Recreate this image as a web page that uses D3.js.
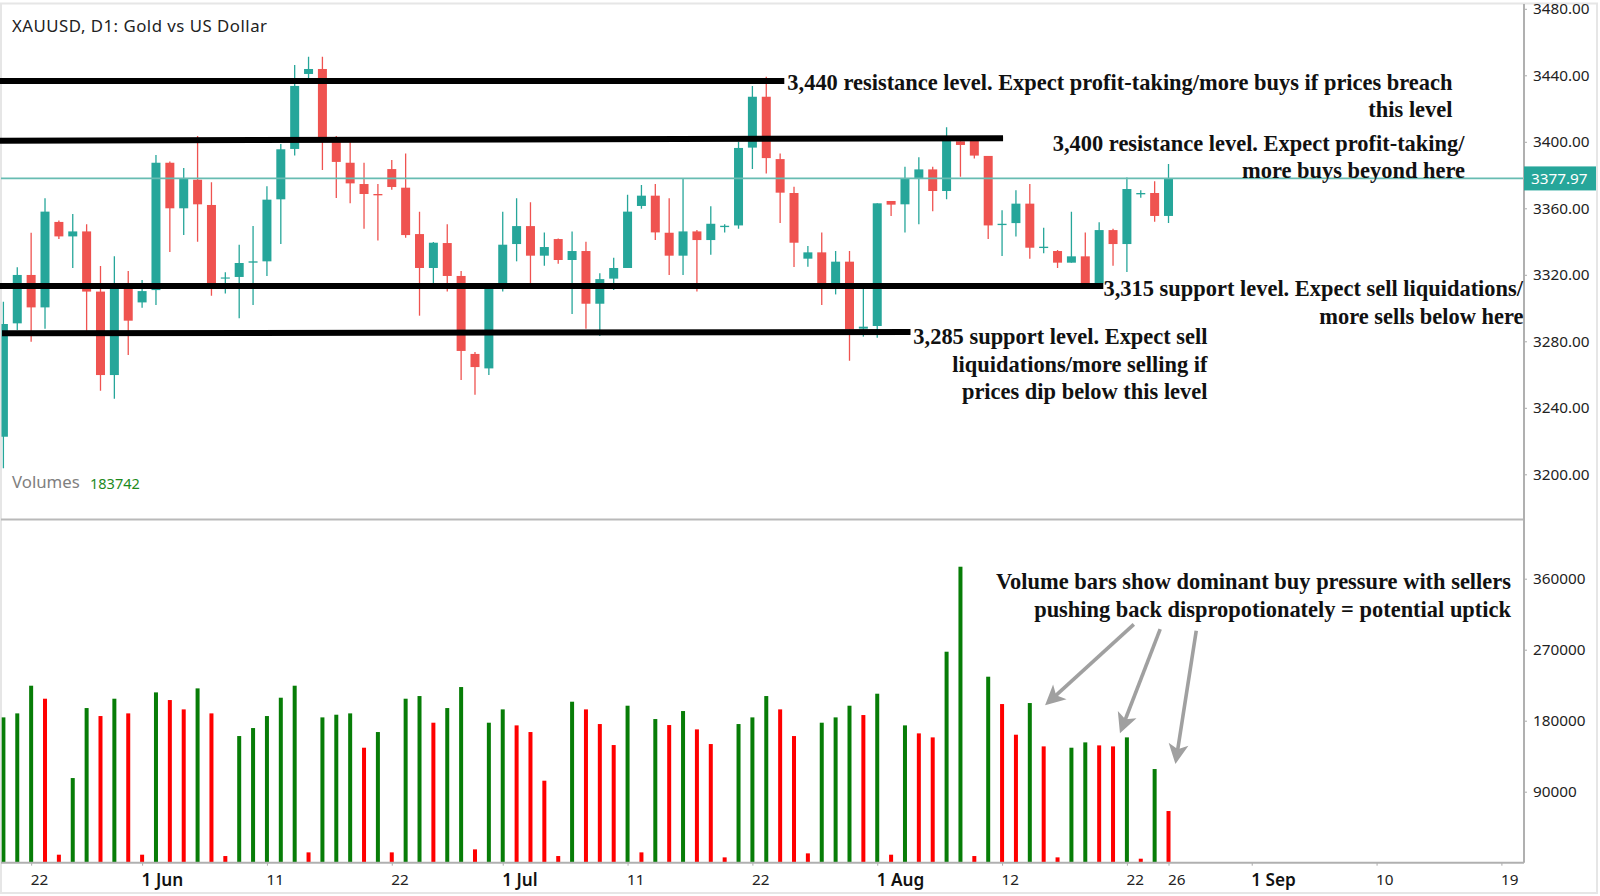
<!DOCTYPE html>
<html>
<head>
<meta charset="utf-8">
<script src="https://cdn.jsdelivr.net/npm/d3@7"></script>
<style>
  html, body { margin: 0; background: #fff; }
  svg { display: block; }
  .axis text { font-family: "Noto Sans", sans-serif; fill: #222; }
  .note { font-family: "Liberation Serif", serif; font-weight: bold; font-size: 22.45px; fill: #111; text-anchor: end; }
</style>
</head>
<body>
<svg id="chart" width="1600" height="896"></svg>
<script>
'use strict';
const opens = [3222.6,3290.8,3319.9,3300.4,3351.8,3343.1,3346.1,3309.9,3259.7,3311.9,3303.4,3310.8,3387.4,3360.0,3377.2,3362.0,3317.7,3318.7,3327.3,3328.1,3365.4,3395.7,3440.8,3443.8,3401.1,3387.4,3374.6,3368.6,3383.6,3372.4,3344.5,3324.1,3339.1,3319.3,3272.4,3263.7,3313.9,3338.5,3349.3,3331.5,3341.5,3328.9,3334.3,3302.6,3317.7,3324.1,3361.4,3367.6,3345.3,3331.5,3346.1,3340.9,3348.7,3349.7,3396.5,3427.1,3389.6,3369.2,3329.7,3333.5,3313.9,3327.9,3287.6,3289.2,3364.4,3362.4,3377.6,3383.4,3370.4,3400.3,3401.1,3391.5,3349.9,3351.1,3362.8,3336.1,3334.3,3327.3,3331.1,3314.9,3346.9,3338.5,3368.4,3369.2,3355.4];
const highs = [3303.8,3324.5,3345.3,3366.0,3352.6,3356.6,3350.4,3325.3,3331.1,3322.3,3316.9,3392.0,3388.2,3384.2,3403.5,3375.6,3321.5,3338.1,3349.3,3373.2,3398.7,3446.2,3451.2,3451.2,3403.5,3400.0,3387.4,3374.6,3389.0,3393.0,3358.0,3339.7,3350.4,3322.3,3273.6,3312.9,3358.0,3366.0,3363.6,3345.5,3341.9,3346.1,3339.9,3320.9,3330.3,3368.2,3374.0,3374.6,3366.0,3377.8,3346.9,3361.2,3350.4,3400.0,3433.6,3439.1,3393.0,3373.0,3337.3,3345.5,3334.3,3334.3,3314.9,3363.0,3364.4,3385.0,3390.7,3385.0,3408.7,3401.1,3401.1,3391.5,3358.8,3370.8,3374.6,3348.3,3334.9,3358.0,3345.5,3351.6,3347.7,3378.6,3370.8,3376.2,3386.6];
const lows = [3203.6,3286.8,3279.8,3287.6,3341.5,3324.1,3286.4,3250.3,3245.5,3271.8,3300.2,3301.8,3333.7,3343.9,3339.9,3307.4,3308.8,3293.8,3301.8,3319.3,3338.5,3391.7,3438.2,3383.0,3366.2,3363.0,3347.7,3340.7,3371.2,3342.3,3295.4,3314.9,3309.9,3256.7,3247.9,3259.7,3309.9,3328.1,3313.9,3325.5,3326.7,3296.4,3287.6,3283.2,3310.8,3324.1,3359.8,3340.9,3319.9,3319.9,3309.9,3332.1,3345.5,3347.7,3383.6,3381.0,3351.1,3324.7,3324.9,3301.8,3308.2,3268.3,3282.8,3282.2,3355.4,3345.5,3350.4,3358.2,3365.4,3379.0,3390.0,3341.5,3331.3,3343.1,3329.7,3332.9,3324.1,3327.3,3313.9,3313.9,3325.5,3321.7,3366.4,3351.9,3351.1];
const closes = [3290.4,3319.9,3300.4,3358.0,3343.1,3346.1,3309.9,3259.7,3311.9,3292.4,3310.2,3387.4,3360.0,3377.6,3362.4,3313.9,3318.4,3327.1,3328.1,3365.2,3395.5,3433.6,3443.8,3401.1,3387.9,3375.0,3368.6,3367.8,3372.8,3343.9,3324.1,3339.3,3319.3,3274.2,3264.5,3311.9,3338.1,3349.3,3331.5,3336.7,3328.9,3334.3,3302.6,3317.4,3324.1,3358.0,3367.6,3345.5,3331.5,3346.1,3340.9,3350.7,3349.5,3396.3,3427.1,3390.2,3369.4,3339.3,3333.5,3314.9,3327.9,3287.2,3288.8,3363.0,3362.2,3377.6,3383.4,3370.4,3402.1,3398.1,3391.7,3349.7,3350.7,3362.8,3336.3,3336.9,3327.3,3331.1,3314.9,3346.9,3338.5,3371.6,3369.2,3355.4,3377.97];
const volumes = [184210,189280,224350,207870,10140,107300,196040,185900,207870,189280,10140,215900,206180,194350,220970,189280,8450,160550,170690,185900,209140,224350,13100,184210,187590,189280,145760,165620,13100,207870,211250,177450,196040,222660,16900,177450,194350,174070,165620,103940,8450,204070,194350,175760,149140,199000,13100,182100,174490,192240,169000,150410,6760,175760,184210,211250,194350,160550,11830,177450,184210,199000,187170,214210,10140,174070,163930,158860,267440,375180,8450,235760,201110,162240,202380,147450,6760,145760,152520,148720,147450,158860,5070,118720,65490];
// g = higher pressure bar, r = lower pressure bar
const volumeDir = 'gggrrggrgrrgrrgrrgggggrgggrgrggrggrggrrrrgrrrgrgrgrrrgggrrrgggrgrgrrggrgrrgrrggrrgrgr'.split('');
const priceTicks = [3480,3440,3400,3360,3320,3280,3240,3200];
const volumeTicks = [360000,270000,180000,90000];
const dateTickIndex = [2,10,19,28,36,45,54,63,72,81,84,90,99,108];
const dateTickLabels = ['22','1 Jun','11','22','1 Jul','11','22','1 Aug','12','22','26','1 Sep','10','19'];
const monthLabels = ['1 Jun','1 Jul','1 Aug','1 Sep'];
const lastPrice = 3377.97;
const lastVolume = 183742;
// hand drawn levels on the picture: index from/to and price at each end
const levelFrom = [-0.25,-0.25,-0.25,-0.1];
const levelTo = [56.3,72.07,79.3,65.4];
const levelPriceFrom = [3436.6,3400.7,3313.3,3284.8];
const levelPriceTo = [3436.6,3402.1,3313.3,3285.6];
const arrowFromIndex = [81.5,83.4,86.0];
const arrowFromVolume = [302200,296200,294100];
const arrowToIndex = [75.1,80.5,84.5];
const arrowToVolume = [199500,164000,125100];

const svg = d3.select('#chart');
const plotRight = 1524;
const x = d3.scaleLinear().domain([0, 108]).range([3.4, 1501.4]);
const yPrice = d3.scaleLinear().domain([3200, 3480]).range([474.3, 8.8]);
const yVol = d3.scaleLinear().domain([0, 360000]).range([862.7, 578.7]);

// Frame and panes
const frame = svg.append('g').attr('fill', 'none');
frame.append('rect').attr('x', 1).attr('y', 3.5).attr('width', 1596).attr('height', 889.5).attr('stroke', '#e6e6e6').attr('stroke-width', 2);
frame.append('line').attr('x1', 1).attr('x2', plotRight).attr('y1', 519.5).attr('y2', 519.5).attr('stroke', '#b9b9b9').attr('stroke-width', 2);

svg.append('clipPath').attr('id', 'plot').append('rect')
  .attr('x', 1.5).attr('y', 4).attr('width', plotRight - 1.5).attr('height', 859);

// Candles
const candles = d3.range(opens.length).map(i => ({i, o: opens[i], h: highs[i], l: lows[i], c: closes[i]}));
const cg = svg.append('g').attr('clip-path', 'url(#plot)')
  .selectAll('g').data(candles).enter().append('g')
  .attr('fill', d => d.c >= d.o ? '#26a69a' : '#ef5350')
  .attr('stroke', d => d.c >= d.o ? '#26a69a' : '#ef5350');
cg.append('line')
  .attr('x1', d => x(d.i)).attr('x2', d => x(d.i))
  .attr('y1', d => yPrice(d.h)).attr('y2', d => yPrice(d.l))
  .attr('stroke-width', 1.3);
cg.append('rect')
  .attr('x', d => x(d.i) - 4.5).attr('width', 9)
  .attr('y', d => yPrice(Math.max(d.o, d.c)))
  .attr('height', d => Math.max(1, Math.abs(yPrice(d.o) - yPrice(d.c))))
  .attr('stroke', 'none');

// Volume bars
svg.append('g').attr('clip-path', 'url(#plot)')
  .selectAll('rect').data(volumes).enter().append('rect')
  .attr('x', (d, i) => x(i) - 2).attr('width', 4)
  .attr('y', d => yVol(d)).attr('height', d => yVol(0) - yVol(d))
  .attr('fill', (d, i) => volumeDir[i] === 'g' ? '#077d07' : '#ff0000');

// Last price line
svg.append('line')
  .attr('x1', 1).attr('x2', plotRight)
  .attr('y1', yPrice(lastPrice)).attr('y2', yPrice(lastPrice))
  .attr('stroke', '#67bcb2').attr('stroke-width', 1.6);

// Levels
svg.append('g').selectAll('line').data(levelFrom).enter().append('line')
  .attr('x1', d => x(d)).attr('x2', (d, i) => x(levelTo[i]))
  .attr('y1', (d, i) => yPrice(levelPriceFrom[i])).attr('y2', (d, i) => yPrice(levelPriceTo[i]))
  .attr('stroke', '#000').attr('stroke-width', 6);

// Axes
const priceAxis = svg.append('g').attr('class', 'axis').attr('transform', `translate(${plotRight},0)`)
  .call(d3.axisRight(yPrice).tickValues(priceTicks).tickFormat(d3.format('.2f')).tickSize(3).tickPadding(6));
const volAxis = svg.append('g').attr('class', 'axis').attr('transform', `translate(${plotRight},0)`)
  .call(d3.axisRight(yVol).tickValues(volumeTicks).tickFormat(d3.format('d')).tickSize(3).tickPadding(6));
const dateAxis = svg.append('g').attr('class', 'axis').attr('transform', `translate(0,${yVol(0)})`)
  .call(d3.axisBottom(x).tickValues(dateTickIndex).tickFormat((d, i) => dateTickLabels[i]).tickSize(3).tickPadding(7));
[priceAxis, volAxis, dateAxis].forEach(a => {
  a.selectAll('.domain').remove();
  a.selectAll('line').attr('stroke', '#aaa');
  a.selectAll('text').style('font-size', '15.3px');
});
dateAxis.selectAll('text').attr('text-anchor', 'start').attr('dx', -1).attr('y', 11)
  .style('font-size', (d, i) => monthLabels.includes(dateTickLabels[i]) ? '17.2px' : '15.3px')
  .style('font-weight', (d, i) => monthLabels.includes(dateTickLabels[i]) ? '600' : '400')
  .style('fill', (d, i) => monthLabels.includes(dateTickLabels[i]) ? '#111' : '#222');
svg.append('line').attr('x1', plotRight).attr('x2', plotRight).attr('y1', 4).attr('y2', yVol(0)).attr('stroke', '#b0b0b0').attr('stroke-width', 2);
svg.append('line').attr('x1', 1).attr('x2', plotRight).attr('y1', yVol(0)).attr('y2', yVol(0)).attr('stroke', '#b0b0b0').attr('stroke-width', 2);

// Last price tag
const tag = svg.append('g');
tag.append('rect').attr('x', plotRight).attr('y', yPrice(lastPrice) - 12).attr('width', 72).attr('height', 24).attr('fill', '#26a69a');
tag.append('text').attr('x', plotRight + 7).attr('y', yPrice(lastPrice) + 5.5).attr('fill', '#fff')
  .style('font', '15.3px "Noto Sans", sans-serif').text(d3.format('.2f')(lastPrice));

// Legends
const legendFont = '16.8px "Noto Sans", sans-serif';
svg.append('text').attr('x', 12).attr('y', 31.5).attr('fill', '#222').style('font', legendFont).style('letter-spacing', '0.5px').text('XAUUSD, D1: Gold vs US Dollar');
svg.append('text').attr('x', 12).attr('y', 488).attr('fill', '#808080').style('font', legendFont).text('Volumes');
svg.append('text').attr('x', 90).attr('y', 489).attr('fill', '#1d8a1d').style('font', '14.5px "Noto Sans", sans-serif').text(lastVolume);

// Annotations
const notes = [
  ['3,440 resistance level. Expect profit-taking/more buys if prices breach', 1452.5, 89.8],
  ['this level', 1452.5, 117.2],
  ['3,400 resistance level. Expect profit-taking/', 1464.5, 150.5],
  ['more buys beyond here', 1465, 178.2],
  ['3,315 support level. Expect sell liquidations/', 1523, 295.8],
  ['more sells below here', 1523.5, 323.8],
  ['3,285 support level. Expect sell', 1207.5, 343.8],
  ['liquidations/more selling if', 1207.5, 371.5],
  ['prices dip below this level', 1207.5, 399.2],
  ['Volume bars show dominant buy pressure with sellers', 1511, 588.8],
  ['pushing back dispropotionately = potential uptick', 1511, 616.5]
];
svg.append('g').selectAll('text').data(notes).enter().append('text')
  .attr('class', 'note')
  .attr('x', d => d[1]).attr('y', d => d[2]).text(d => d[0]);

// Arrows: shaft stops short of the tip so the head stays pointed
const arrows = arrowFromIndex.map((d, i) => {
  const p = [x(d), yVol(arrowFromVolume[i])];
  const q = [x(arrowToIndex[i]), yVol(arrowToVolume[i])];
  const a = Math.atan2(q[1] - p[1], q[0] - p[0]);
  return {p, q, a};
});
const ag = svg.append('g').selectAll('g').data(arrows).enter().append('g');
ag.append('line')
  .attr('x1', d => d.p[0]).attr('y1', d => d.p[1])
  .attr('x2', d => d.q[0] - 14 * Math.cos(d.a)).attr('y2', d => d.q[1] - 14 * Math.sin(d.a))
  .attr('stroke', '#a0a0a0').attr('stroke-width', 3.6);
ag.append('path')
  .attr('d', 'M0,0L-20,-10L-15,0L-20,10Z')
  .attr('transform', d => `translate(${d.q[0]},${d.q[1]}) rotate(${d.a * 180 / Math.PI})`)
  .attr('fill', '#a0a0a0');
</script>
</body>
</html>
